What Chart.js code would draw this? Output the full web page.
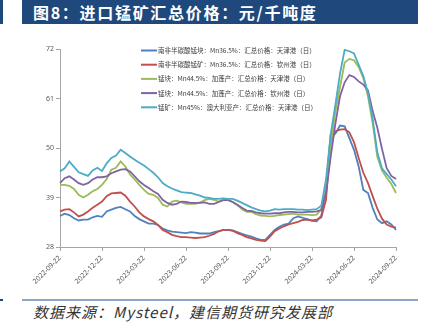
<!DOCTYPE html>
<html lang="zh">
<head>
<meta charset="UTF-8">
<title>进口锰矿汇总价格</title>
<script src="https://cdn.jsdelivr.net/npm/chart.js"></script>
<style>
  body { margin:0; width:423px; height:324px; background:#fff; position:relative; overflow:hidden; font-family:"Noto Sans CJK SC", sans-serif; }
  .title-bar { position:absolute; left:22px; top:0; width:396px; height:24px; background:#1F497D; }
  .title-bar span { position:absolute; left:11px; top:0; line-height:24px; color:#fff; font-size:16px; font-weight:bold; letter-spacing:1.7px; }
  .edge { position:absolute; left:0; width:3px; background:#1F497D; }
  .rule { position:absolute; left:22px; top:299px; width:396px; height:2px; background:#8EA6C6; }
  .source { position:absolute; left:33px; top:301px; font-size:15px; font-style:italic; color:#333; letter-spacing:1px; }
  #wrap { position:absolute; left:0; top:30px; width:423px; height:268px; }
</style>
</head>
<body>
<div class="edge" style="top:0;height:24px"></div>
<div class="title-bar"><span>图8：进口锰矿汇总价格：元/千吨度</span></div>
<div id="wrap"><canvas id="chart"></canvas></div>
<div class="edge" style="top:299px;height:2px"></div>
<div class="rule"></div>
<div class="source">数据来源：Mysteel，建信期货研究发展部</div>

<script>
// dates (about every 10 days)
const dates = [
  '2022-09-22','2022-10-02','2022-10-12','2022-10-22','2022-11-02','2022-11-12','2022-11-22','2022-12-02','2022-12-12','2022-12-22',
  '2023-01-02','2023-01-12','2023-01-22','2023-02-02','2023-02-12','2023-02-22','2023-03-02','2023-03-12','2023-03-22',
  '2023-04-02','2023-04-12','2023-04-22','2023-05-02','2023-05-12','2023-05-22','2023-06-02','2023-06-12','2023-06-22',
  '2023-07-02','2023-07-12','2023-07-22','2023-08-02','2023-08-12','2023-08-22','2023-09-02','2023-09-12','2023-09-22',
  '2023-10-02','2023-10-12','2023-10-22','2023-11-02','2023-11-12','2023-11-22','2023-12-02','2023-12-12','2023-12-22',
  '2024-01-02','2024-01-12','2024-01-22','2024-02-02','2024-02-12','2024-02-22','2024-03-02','2024-03-12','2024-03-22',
  '2024-04-02','2024-04-12','2024-04-22','2024-05-02','2024-05-12','2024-05-22','2024-06-02','2024-06-12','2024-06-22',
  '2024-07-02','2024-07-12','2024-07-22','2024-08-02','2024-08-12','2024-08-22','2024-09-02','2024-09-12','2024-09-22'
];
const tickLabels = ['2022-09-22','2022-12-22','2023-03-22','2023-06-22','2023-09-22','2023-12-22','2024-03-22','2024-06-22','2024-09-22'];

const seriesNames = [
  '南非半碳酸锰块：Mn36.5%：汇总价格：天津港（日）',
  '南非半碳酸锰矿：Mn36.5%：汇总价格：钦州港（日）',
  '锰块：Mn44.5%：加蓬产：汇总价格：天津港（日）',
  '锰块：Mn44.5%：加蓬产：汇总价格：钦州港（日）',
  '锰矿：Mn45%：澳大利亚产：汇总价格：天津港（日）'
];
const seriesColors = ['#4F81BD', '#C0504D', '#9BBB59', '#8064A2', '#4BACC6'];

const saTianjin = [34.9,35.4,35.1,34.4,33.9,34.1,34.1,34.6,34.9,34.7,
  35.9,36.3,36.7,36.9,36.4,35.9,34.9,34.2,33.7,33.2,
  33.2,32.9,32.1,31.7,31.4,31.3,31.2,31.1,31.3,31.2,
  31.0,31.0,31.0,31.3,31.5,31.8,31.8,31.7,31.3,30.9,
  30.6,30.3,29.9,29.6,29.6,30.7,31.8,32.5,33.0,33.2,
  34.4,34.8,34.5,34.2,33.8,33.7,35.0,40.7,53.0,53.2,
  55.0,54.8,52.2,49.6,45.9,40.7,40.0,36.7,34.1,33.3,
  33.7,33.0,31.8];
const saQinzhou = [35.9,36.3,36.4,35.7,34.8,35.2,35.9,36.7,37.4,38.1,
  39.3,39.9,40.0,40.1,39.4,38.1,37.0,35.7,34.8,34.2,
  33.7,32.9,31.8,31.3,30.7,30.4,30.2,30.2,30.1,30.0,
  30.1,30.2,30.5,30.9,31.5,31.8,31.8,31.6,31.1,30.7,
  30.2,29.9,29.6,29.4,29.3,30.3,31.5,32.1,32.6,33.0,
  33.3,33.6,34.0,34.1,33.9,34.1,34.6,38.5,51.1,53.7,
  54.1,54.2,53.5,51.3,47.8,44.5,42.2,39.3,36.5,34.3,
  33.0,32.5,32.3];
const gabonTianjin = [41.8,41.8,41.6,40.9,39.6,39.0,39.6,40.4,40.9,41.8,
  43.1,45.2,45.6,47.0,45.9,44.1,43.0,41.8,40.7,39.8,
  39.6,38.9,37.4,37.0,38.1,38.3,37.9,37.6,37.6,37.6,
  37.9,38.4,38.7,38.5,38.1,38.5,38.5,38.0,37.3,36.4,
  35.8,35.8,35.3,35.0,34.9,34.8,34.9,35.1,35.2,35.3,
  35.4,35.2,35.2,35.2,35.1,35.2,36.5,41.5,50.5,58.0,
  63.5,69.0,69.8,69.5,68.0,65.5,61.5,55.5,48.0,45.0,
  43.4,42.0,40.0];
const gabonQinzhou = [42.2,43.3,43.7,43.0,42.2,41.8,42.2,43.0,43.5,43.5,
  43.7,44.4,44.8,45.2,45.3,44.8,43.7,42.6,41.8,41.1,
  40.4,39.8,38.5,37.8,37.4,37.6,38.1,38.0,37.8,37.8,
  37.8,37.9,37.6,37.6,38.0,38.4,38.4,38.0,37.4,36.7,
  36.1,36.0,35.7,35.5,35.4,35.4,35.5,35.5,35.7,35.8,
  35.8,35.7,35.7,35.8,35.8,35.9,36.2,40.0,48.0,55.3,
  61.5,64.6,66.2,65.8,64.8,64.1,62.8,58.2,54.5,49.8,
  45.5,43.8,43.1];
const ausTianjin = [44.8,45.5,47.0,45.8,44.6,44.2,43.8,45.0,45.6,44.9,
  46.6,47.8,48.3,49.6,48.9,48.1,47.4,46.7,46.1,45.3,
  44.5,43.5,42.2,41.5,41.0,40.6,40.2,40.1,40.0,39.7,
  39.4,39.0,38.9,38.7,38.7,38.8,38.7,38.7,38.3,37.8,
  37.3,36.8,36.4,36.1,35.9,36.1,36.4,36.3,36.4,36.4,
  36.4,36.3,36.3,36.2,36.3,36.4,37.2,43.0,53.0,59.5,
  66.5,71.8,71.5,71.0,68.5,66.0,62.2,56.5,49.0,45.5,
  44.2,43.0,41.5];

const allSeries = [saTianjin, saQinzhou, gabonTianjin, gabonQinzhou, ausTianjin];

// legend drawn inside the plot, top right
const insideLegend = {
  id: 'insideLegend',
  afterDraw(chart) {
    const {ctx, chartArea} = chart;
    const x = chartArea.left + 81;
    ctx.save();
    ctx.font = '6.5px "Noto Sans CJK SC"';
    ctx.textBaseline = 'middle';
    chart.data.datasets.forEach((ds, i) => {
      const y = chartArea.top + 1.5 + i * 14.2;
      ctx.strokeStyle = ds.borderColor;
      ctx.lineWidth = 2;
      ctx.beginPath();
      ctx.moveTo(x, y);
      ctx.lineTo(x + 16, y);
      ctx.stroke();
      ctx.fillStyle = '#404040';
      ctx.fillText(ds.label, x + 17, y);
    });
    ctx.restore();
  }
};

new Chart(document.getElementById('chart'), {
  type: 'line',
  data: {
    labels: dates,
    datasets: allSeries.map((values, i) => ({
      label: seriesNames[i],
      data: values,
      borderColor: seriesColors[i],
      backgroundColor: seriesColors[i],
      borderWidth: 1.8,
      pointRadius: 0,
      tension: 0,
      order: 5 - i
    }))
  },
  options: {
    responsive: true,
    maintainAspectRatio: false,
    animation: false,
    layout: { padding: { left: 0, right: 27, top: 19, bottom: 0 } },
    plugins: {
      legend: { display: false },
      tooltip: { enabled: false }
    },
    scales: {
      x: {
        grid: { display: true, drawOnChartArea: false, tickLength: 4, color: '#A6A6A6' },
        border: { color: '#A6A6A6' },
        ticks: {
          autoSkip: false,
          minRotation: 45,
          maxRotation: 45,
          color: '#595959',
          font: { size: 7, family: 'Noto Sans' },
          callback: function (value) {
            const label = this.getLabelForValue(value);
            return tickLabels.includes(label) ? label : null;
          }
        },
        afterFit: (scale) => { scale.height = 51; }
      },
      y: {
        min: 28,
        max: 72,
        grid: { display: true, drawOnChartArea: false, tickLength: 4, color: '#A6A6A6' },
        border: { color: '#A6A6A6' },
        ticks: {
          stepSize: 11,
          padding: 2,
          color: '#595959',
          font: { size: 7, family: 'Noto Sans' }
        },
        afterFit: (scale) => { scale.width = 60; }
      }
    }
  },
  plugins: [insideLegend]
});
</script>
</body>
</html>
